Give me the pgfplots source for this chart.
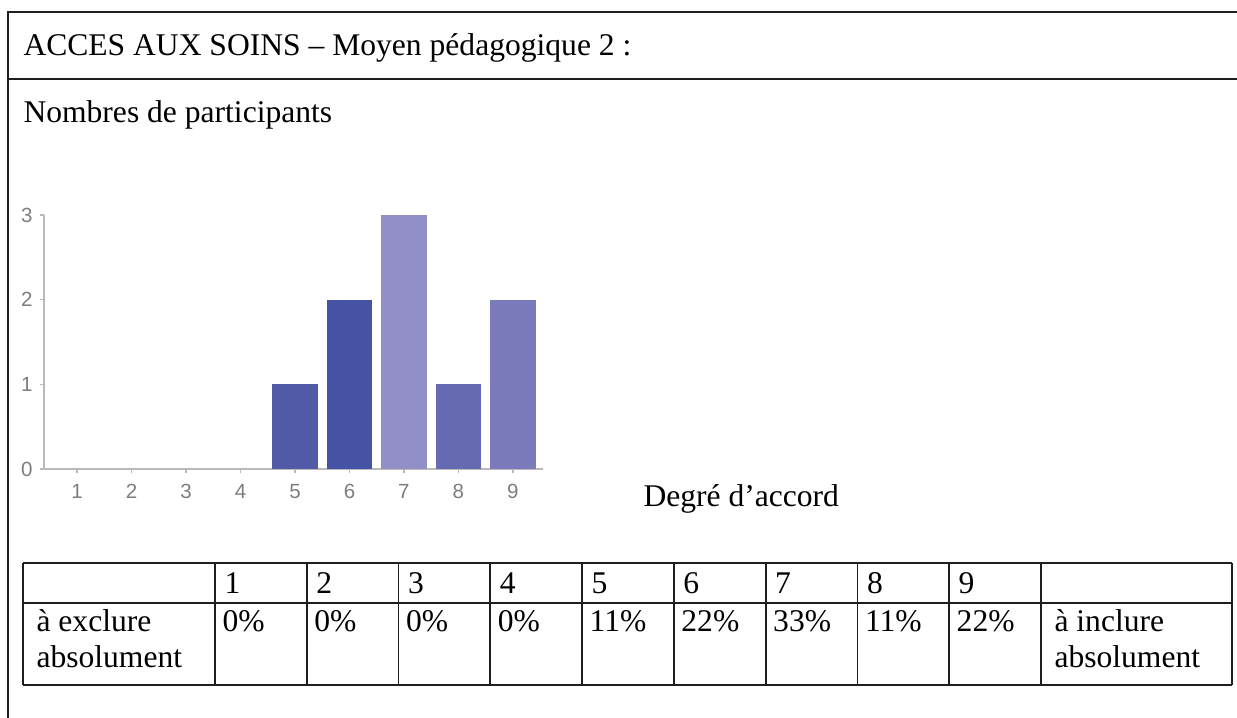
\documentclass[border=0pt]{standalone}
\usepackage{fontspec}
\setmainfont{Liberation Serif}
\newfontfamily\chartsans{Liberation Sans}
\usepackage{pgfplots}
\pgfplotsset{compat=1.18}
\definecolor{cfive}{RGB}{81,90,166}
\definecolor{csix}{RGB}{70,82,163}
\definecolor{cseven}{RGB}{145,143,197}
\definecolor{ceight}{RGB}{102,106,176}
\definecolor{cnine}{RGB}{123,123,188}
\definecolor{axisgray}{RGB}{185,185,185}
\definecolor{labelgray}{RGB}{125,125,125}
\definecolor{ink}{RGB}{30,30,30}
\begin{document}
\begin{tikzpicture}[x=0.38pt,y=-0.38pt]
\path[use as bounding box] (0,0) rectangle (1237,717);
\begin{scope}
\clip (0,0) rectangle (1237,717);
\draw[line width=0.76pt, ink] (8,740) -- (8,12) -- (1260,12);
\draw[line width=0.76pt, ink] (8,79) -- (1260,79);
\end{scope}
\fontsize{12}{13.8}\selectfont
\node[anchor=base west, inner sep=0pt] at (23,55) {ACCES AUX SOINS – Moyen pédagogique 2 :};
\node[anchor=base west, inner sep=0pt] at (23,122) {Nombres de participants};
\node[anchor=base west, inner sep=0pt] at (643,506) {Degré d’accord};
% table
\begin{scope}[line width=0.65pt, ink]
\draw (23,563) -- (1232,563);
\draw (23,603) -- (1232,603);
\draw (23,685) -- (1232,685);
\foreach \xx in {23,215,306.8,398.6,490.3,582.1,673.9,765.7,857.5,949.2,1041,1232}
  \draw (\xx,563) -- (\xx,685);
\end{scope}
\foreach \i/\xx in {1/215,2/306.8,3/398.6,4/490.3,5/582.1,6/673.9,7/765.7,8/857.5,9/949.2}
  \node[anchor=base west, inner sep=0pt] at (\xx+9,593) {\i};
\foreach \p/\xx in {0/215,0/306.8,0/398.6,0/490.3,11/582.1,22/673.9,33/765.7,11/857.5,22/949.2}
  \node[anchor=base west, inner sep=0pt] at (\xx+7,631) {\p\%};
\node[anchor=base west, inner sep=0pt] at (36,631) {à exclure};
\node[anchor=base west, inner sep=0pt] at (36,667) {absolument};
\node[anchor=base west, inner sep=0pt] at (1054,631) {à inclure};
\node[anchor=base west, inner sep=0pt] at (1054,667) {absolument};
\begin{axis}[
  at={(16.72pt,-178.22pt)}, anchor=south west,
  scale only axis, width=189.6pt, height=96.5pt,
  xmin=0.395, xmax=9.55, ymin=0, ymax=3,
  axis lines=left,
  axis line style={-, draw=axisgray, line width=0.5pt},
  xtick={1,2,3,4,5,6,7,8,9}, ytick={0,1,2,3},
  tick style={draw=axisgray, line width=0.5pt},
  tick align=outside, major tick length=1.6pt,
  /pgf/number format/assume math mode=true,
  tick label style={font=\chartsans\fontsize{7.8}{8}\selectfont, text=labelgray},
  xticklabel style={anchor=north, inner sep=0pt, yshift=-4.0pt},
  yticklabel style={anchor=east, inner sep=0pt, xshift=-2.6pt},
]
\addplot[ybar, bar width=0.84, bar shift=0pt, draw=none, fill=none] coordinates {(1,0) (2,0) (3,0) (4,0)};
\addplot[ybar, bar width=0.84, bar shift=0pt, draw=none, fill=cfive] coordinates {(5,1)};
\addplot[ybar, bar width=0.84, bar shift=0pt, draw=none, fill=csix] coordinates {(6,2)};
\addplot[ybar, bar width=0.84, bar shift=0pt, draw=none, fill=cseven] coordinates {(7,3)};
\addplot[ybar, bar width=0.84, bar shift=0pt, draw=none, fill=ceight] coordinates {(8,1)};
\addplot[ybar, bar width=0.84, bar shift=0pt, draw=none, fill=cnine] coordinates {(9,2)};
\end{axis}
\end{tikzpicture}
\end{document}
